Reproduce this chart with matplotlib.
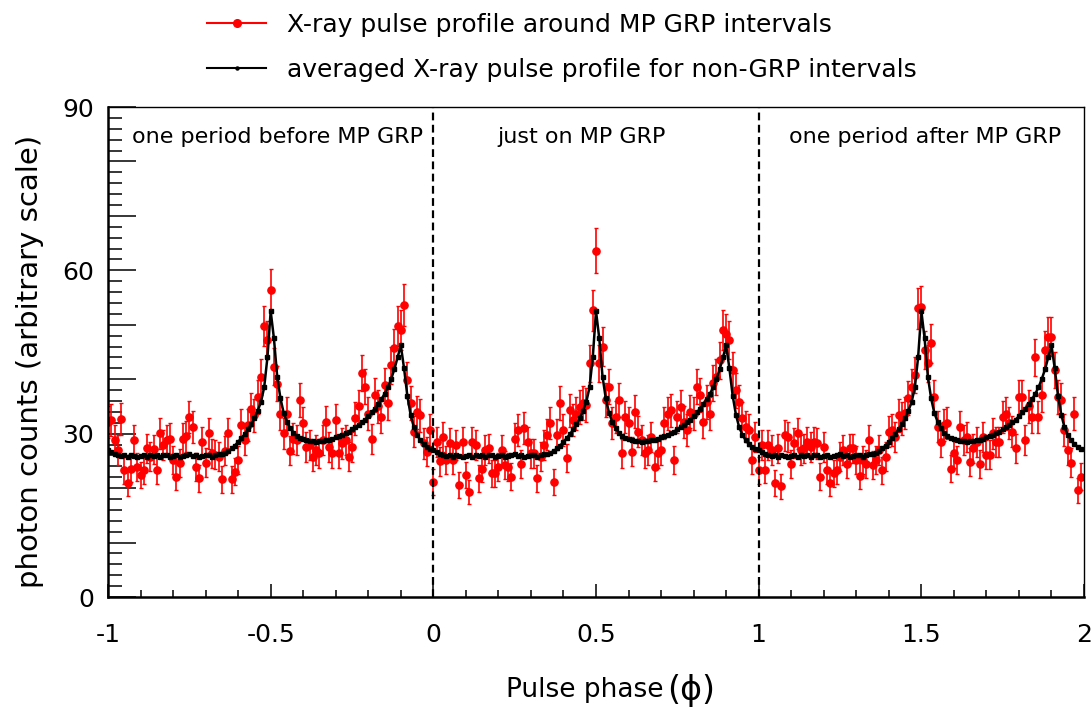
import matplotlib
matplotlib.use("Agg")
import matplotlib.pyplot as plt
import numpy as np
from matplotlib.lines import Line2D
from matplotlib.ticker import FuncFormatter, MultipleLocator

# averaged non-GRP profile, 100 phase bins (same in every period)
avg_profile = [
    27.0, 26.6, 26.3, 26.1, 25.9, 26.0, 25.8, 26.1, 25.9, 25.7,
    25.9, 26.0, 25.8, 26.0, 25.9, 26.0, 25.8, 26.1, 26.0, 25.8,
    25.9, 26.1, 25.8, 25.9, 26.0, 26.2, 25.9, 26.0, 25.8, 25.9,
    26.1, 26.0, 25.8, 26.0, 26.2, 26.3, 26.5, 26.8, 27.3, 27.8,
    28.5, 29.2, 29.9, 30.8, 31.7, 32.8, 34.2, 35.8, 38.5, 44.0,
    52.5, 47.5, 40.5, 36.5, 33.8, 32.2, 31.0, 30.2, 29.6, 29.2,
    29.0, 28.8, 28.7, 28.6, 28.5, 28.6, 28.7, 28.8, 28.9, 29.1,
    29.3, 29.5, 29.8, 30.1, 30.4, 30.8, 31.2, 31.6, 32.1, 32.6,
    33.2, 33.9, 34.6, 35.4, 36.3, 37.3, 38.5, 40.0, 41.8, 44.0,
    46.2, 42.0, 37.0, 33.5, 31.2, 29.8, 28.8, 28.1, 27.6, 27.2,
]

# X-ray profile around MP GRP: one period before, on, one period after
grp_before = [
    32.2, 32.5, 28.8, 27.0, 32.7, 23.3, 20.9, 23.6, 28.8, 23.9,
    22.4, 23.3, 27.3, 25.8, 27.1, 23.3, 30.1, 27.9, 28.8, 29.1,
    25.2, 22.1, 24.6, 29.1, 29.5, 33.1, 31.2, 23.9, 21.8, 28.4,
    24.7, 30.1, 26.4, 26.1, 25.8, 21.6, 26.9, 30.1, 21.6, 23.0,
    25.2, 31.6, 28.8, 31.6, 34.5, 33.4, 36.8, 40.5, 49.8, 47.2,
    56.4, 42.3, 39.2, 33.7, 30.1, 33.7, 26.9, 29.1, 28.8, 36.2,
    31.9, 27.6, 27.9, 25.8, 27.0, 26.4, 28.8, 32.2, 27.6, 26.4,
    32.5, 26.4, 28.2, 28.8, 25.8, 27.6, 32.8, 35.0, 41.1, 38.6,
    33.7, 29.0, 37.1, 35.0, 33.1, 38.9, 35.6, 42.6, 45.7, 49.8,
    49.0, 53.6, 39.9, 35.6, 30.4, 33.9, 33.4, 28.2, 26.7, 30.7,
]
grp_on = [
    21.2, 28.5, 24.9, 29.4, 25.2, 28.2, 25.2, 27.9, 20.6, 28.5,
    22.4, 19.3, 28.5, 27.9, 21.8, 23.6, 27.0, 27.3, 22.7, 22.7,
    23.9, 27.0, 24.2, 23.9, 22.1, 29.1, 30.7, 24.5, 31.0, 28.5,
    26.4, 26.4, 21.8, 25.8, 27.9, 29.8, 31.9, 21.2, 29.8, 35.6,
    30.7, 25.5, 34.3, 32.5, 33.7, 34.9, 35.6, 35.3, 42.9, 52.7,
    63.6, 42.9, 46.0, 36.2, 38.6, 31.9, 33.1, 36.2, 26.4, 33.1,
    31.9, 26.7, 34.0, 30.4, 28.8, 26.4, 27.0, 29.4, 23.9, 26.4,
    27.0, 31.9, 33.7, 34.3, 25.2, 33.1, 34.9, 32.2, 30.7, 34.0,
    33.7, 38.6, 37.1, 32.2, 35.9, 33.7, 39.3, 40.5, 43.5, 49.0,
    48.4, 47.2, 41.7, 38.0, 35.9, 32.8, 31.3, 30.7, 25.2, 29.4,
]
grp_after = [
    23.3, 27.9, 23.4, 27.9, 27.0, 21.0, 27.3, 20.3, 29.7, 29.4,
    24.5, 28.3, 30.1, 27.0, 27.3, 28.5, 27.6, 28.5, 28.2, 22.1,
    27.6, 23.3, 21.0, 22.7, 23.3, 25.8, 27.0, 24.5, 27.3, 27.3,
    25.2, 22.2, 25.2, 24.5, 28.8, 24.2, 25.2, 27.0, 23.3, 25.8,
    30.4, 30.7, 29.4, 33.4, 32.8, 33.8, 36.5, 38.6, 40.8, 53.0,
    53.3, 45.4, 42.9, 46.6, 36.8, 31.3, 28.5, 31.6, 31.9, 23.6,
    26.4, 25.2, 31.3, 28.8, 29.4, 24.8, 27.3, 28.5, 24.5, 29.4,
    26.1, 26.1, 30.1, 28.5, 28.5, 33.1, 33.7, 31.9, 30.4, 27.3,
    36.8, 36.8, 28.8, 35.0, 33.1, 44.0, 33.1, 37.1, 45.4, 47.8,
    47.8, 41.7, 36.8, 36.2, 30.7, 27.0, 24.7, 33.7, 19.6, 22.1,
]

period_starts = [-1, 0, 1]
period_names = ["one period before MP GRP", "just on MP GRP", "one period after MP GRP"]
n_bins = len(avg_profile)
# counts are in arbitrary units: error = sqrt(scale * value) (Poisson)
count_scale = 0.27

phase = np.arange(n_bins) / n_bins
x_all = np.concatenate([p + phase for p in period_starts])
red = np.concatenate([grp_before, grp_on, grp_after])
red_err = np.sqrt(count_scale * red)
black = np.tile(avg_profile, len(period_starts))

plt.rcParams["font.family"] = ["DejaVu Sans"]

fig = plt.figure(figsize=(10.91, 7.11), dpi=100)
ax = fig.add_axes([0.099, 0.1603, 0.8946, 0.6892])

ax.errorbar(x_all, red, yerr=red_err, fmt="o", color="red", ms=5.2,
            elinewidth=1.2, capsize=1.4, capthick=1.0, zorder=2)
ax.plot(x_all, black, "-s", color="black", lw=1.8, ms=2.4, zorder=3)

for xb in [0, 1]:
    ax.axvline(xb, color="black", ls=(0, (3.5, 2)), lw=1.6, zorder=4)

ax.set_xlim(-1, 2)
ax.set_ylim(0, 90)

ax.xaxis.set_major_locator(MultipleLocator(0.5))
ax.xaxis.set_minor_locator(MultipleLocator(0.1))
ax.yaxis.set_major_locator(MultipleLocator(10))
ax.yaxis.set_minor_locator(MultipleLocator(2))
ax.xaxis.set_major_formatter(FuncFormatter(lambda v, _: f"{v:g}"))
ax.yaxis.set_major_formatter(FuncFormatter(lambda v, _: f"{v:g}" if round(v) % 30 == 0 else ""))

ax.tick_params(axis="both", which="both", direction="in", top=False, right=False,
               labelsize=18, width=1.1)
ax.tick_params(axis="x", which="major", length=9.5, pad=19)
ax.tick_params(axis="x", which="minor", length=5)
ax.tick_params(axis="y", which="major", length=20, pad=10)
ax.tick_params(axis="y", which="minor", length=10)

for side in ["left", "bottom"]:
    ax.spines[side].set_linewidth(1.8)
for side in ["top", "right"]:
    ax.spines[side].set_linewidth(1.0)

label_x = [-0.48, 0.455, 1.51]
for lx, name in zip(label_x, period_names):
    ax.text(lx, 84.5, name, ha="center", va="center", fontsize=16)

ax.set_ylabel("photon counts (arbitrary scale)", fontsize=21)
ax.yaxis.set_label_coords(-0.066, 0.48)

fig.text(0.6077, 0.0197, "Pulse phase", ha="right", va="baseline", fontsize=19)
fig.text(0.6114, 0.0152, "(ϕ)", ha="left", va="baseline", fontsize=24)

handles = [
    Line2D([], [], color="red", lw=1.5, marker="o", ms=5.5),
    Line2D([], [], color="black", lw=1.5, marker="o", ms=2.2),
]
labels = ["X-ray pulse profile around MP GRP intervals",
          "averaged X-ray pulse profile for non-GRP intervals"]
fig.legend(handles, labels, loc="upper left", bbox_to_anchor=(0.19, 0.982),
           frameon=False, fontsize=18, handlelength=2.35, handletextpad=0.85,
           labelspacing=0.85, borderpad=0, borderaxespad=0)

fig.savefig("out.png", dpi=100)
